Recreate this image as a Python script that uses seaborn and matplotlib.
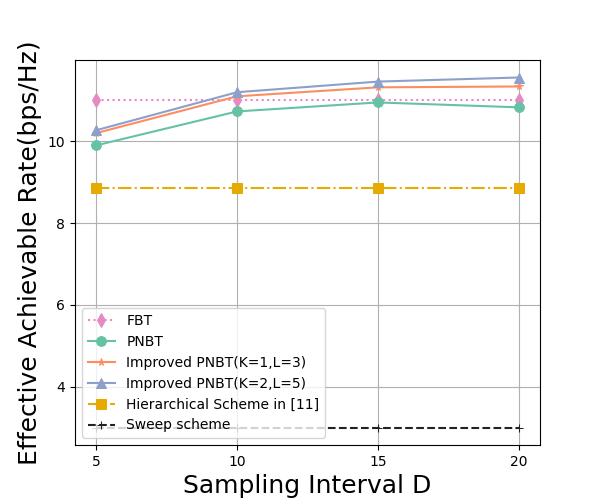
import matplotlib
matplotlib.use("Agg")
import matplotlib.pyplot as plt
import seaborn as sns
import pandas as pd

# intervalos de amostragem
D = [5, 10, 15, 20]

fbt = [11.02, 11.02, 11.02, 11.02]
pnbt = [9.90, 10.73, 10.95, 10.83]
improved_k1 = [10.20, 11.10, 11.32, 11.34]
improved_k2 = [10.27, 11.20, 11.46, 11.56]
hierarchical = [8.85, 8.85, 8.85, 8.85]
sweep = [3.0, 3.0, 3.0, 3.0]

labels = ['FBT', 'PNBT', 'Improved PNBT(K=1,L=3)', 'Improved PNBT(K=2,L=5)',
          'Hierarchical Scheme in [11]', 'Sweep scheme']
series = [fbt, pnbt, improved_k1, improved_k2, hierarchical, sweep]
colors = ['#e78ac3', '#66c2a5', '#fc8d62', '#8da0cb', '#e6ab02', '#222222']
markers = ['d', 'o', '*', '^', 's', '+']
styles = [':', '-', '-', '-', '-.', '--']
msizes = [7, 7, 5.5, 7, 7, 6]

fig, ax = plt.subplots(figsize=(6, 5), dpi=100)

for lab, vals, c, m, ls, ms in zip(labels, series, colors, markers, styles, msizes):
    df = pd.DataFrame({'D': D, 'rate': vals})
    sns.lineplot(data=df, x='D', y='rate', ax=ax, color=c, marker=m,
                 linestyle=ls, markersize=ms, markeredgecolor=c,
                 linewidth=1.5, label=lab)

ax.set_xticks(D)
ax.grid(True)
ax.set_xlabel('Sampling Interval D', fontsize=18)
ax.set_ylabel('Effective Achievable Rate(bps/Hz)', fontsize=18)
ax.legend(loc='lower left')

fig.savefig('out.png')
